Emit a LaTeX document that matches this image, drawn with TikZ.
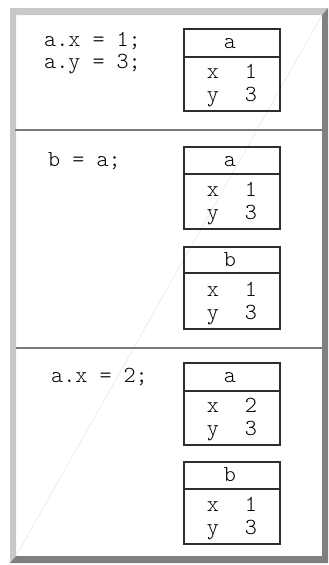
\documentclass[tikz,border=0pt]{standalone}
\definecolor{bevlight}{HTML}{C8C8C8}
\definecolor{bevdark}{HTML}{808080}
\definecolor{sepgray}{HTML}{7A7A7A}
\definecolor{boxgray}{HTML}{2E2E2E}
\definecolor{faint}{HTML}{E4E4E4}
\tikzset{
  codefont/.style={font=\fontsize{23}{28}\selectfont\ttfamily\fontseries{l}\selectfont, text=black},
  codetext/.style={codefont, inner sep=0pt, anchor=base west},
  cell/.style={codefont, inner sep=0pt, anchor=base},
  boxline/.style={draw=boxgray, line width=1.1pt},
  sepline/.style={draw=sepgray, line width=2pt},
}
% #1 name prefix, #2 top y, #3 header height, #4 title, #5 x value, #6 y value
\newcommand\objbox[6]{%
  \draw[boxline] (184,#2) rectangle (280,{#2+82});
  \draw[boxline] (184,{#2+#3}) -- (280,{#2+#3});
  \node[cell] (#1t) at (230,{#2+19}) {#4};
  \node[cell] (#1xl) at (213,{#2+49}) {x};
  \node[cell] (#1xv) at (251,{#2+49}) {#5};
  \node[cell] (#1yl) at (213,{#2+72}) {y};
  \node[cell] (#1yv) at (251,{#2+72}) {#6};
}
\begin{document}
\begin{tikzpicture}[x=1pt,y=-1pt]
\useasboundingbox (0,0) rectangle (329,565);
\fill[white] (0,0) rectangle (329,565);
% bevelled frame
\fill[bevlight] (10,8) -- (328,8) -- (322,15) -- (16,15) -- (16,556) -- (10,563) -- cycle;
\fill[bevdark] (328,8) -- (328,563) -- (10,563) -- (16,556) -- (322,556) -- (322,15) -- cycle;
\draw[faint, line width=0.5pt] (16,556) -- (322,15);
% separators
\draw[sepline] (15,130) -- (322,130);
\draw[sepline] (16,348) -- (322,348);
% section 1
\node[codetext] (c1a) at (44,46) {a.x = 1;};
\node[codetext] (c1b) at (44,68) {a.y = 3;};
\objbox{s1a}{29}{28}{a}{1}{3}
% section 2
\node[codetext] (c2) at (48,166) {b = a;};
\objbox{s2a}{147}{27}{a}{1}{3}
\objbox{s2b}{247}{26}{b}{1}{3}
% section 3
\node[codetext] (c3) at (51,382) {a.x = 2;};
\objbox{s3a}{363}{28}{a}{2}{3}
\objbox{s3b}{462}{27}{b}{1}{3}
\end{tikzpicture}
\end{document}
